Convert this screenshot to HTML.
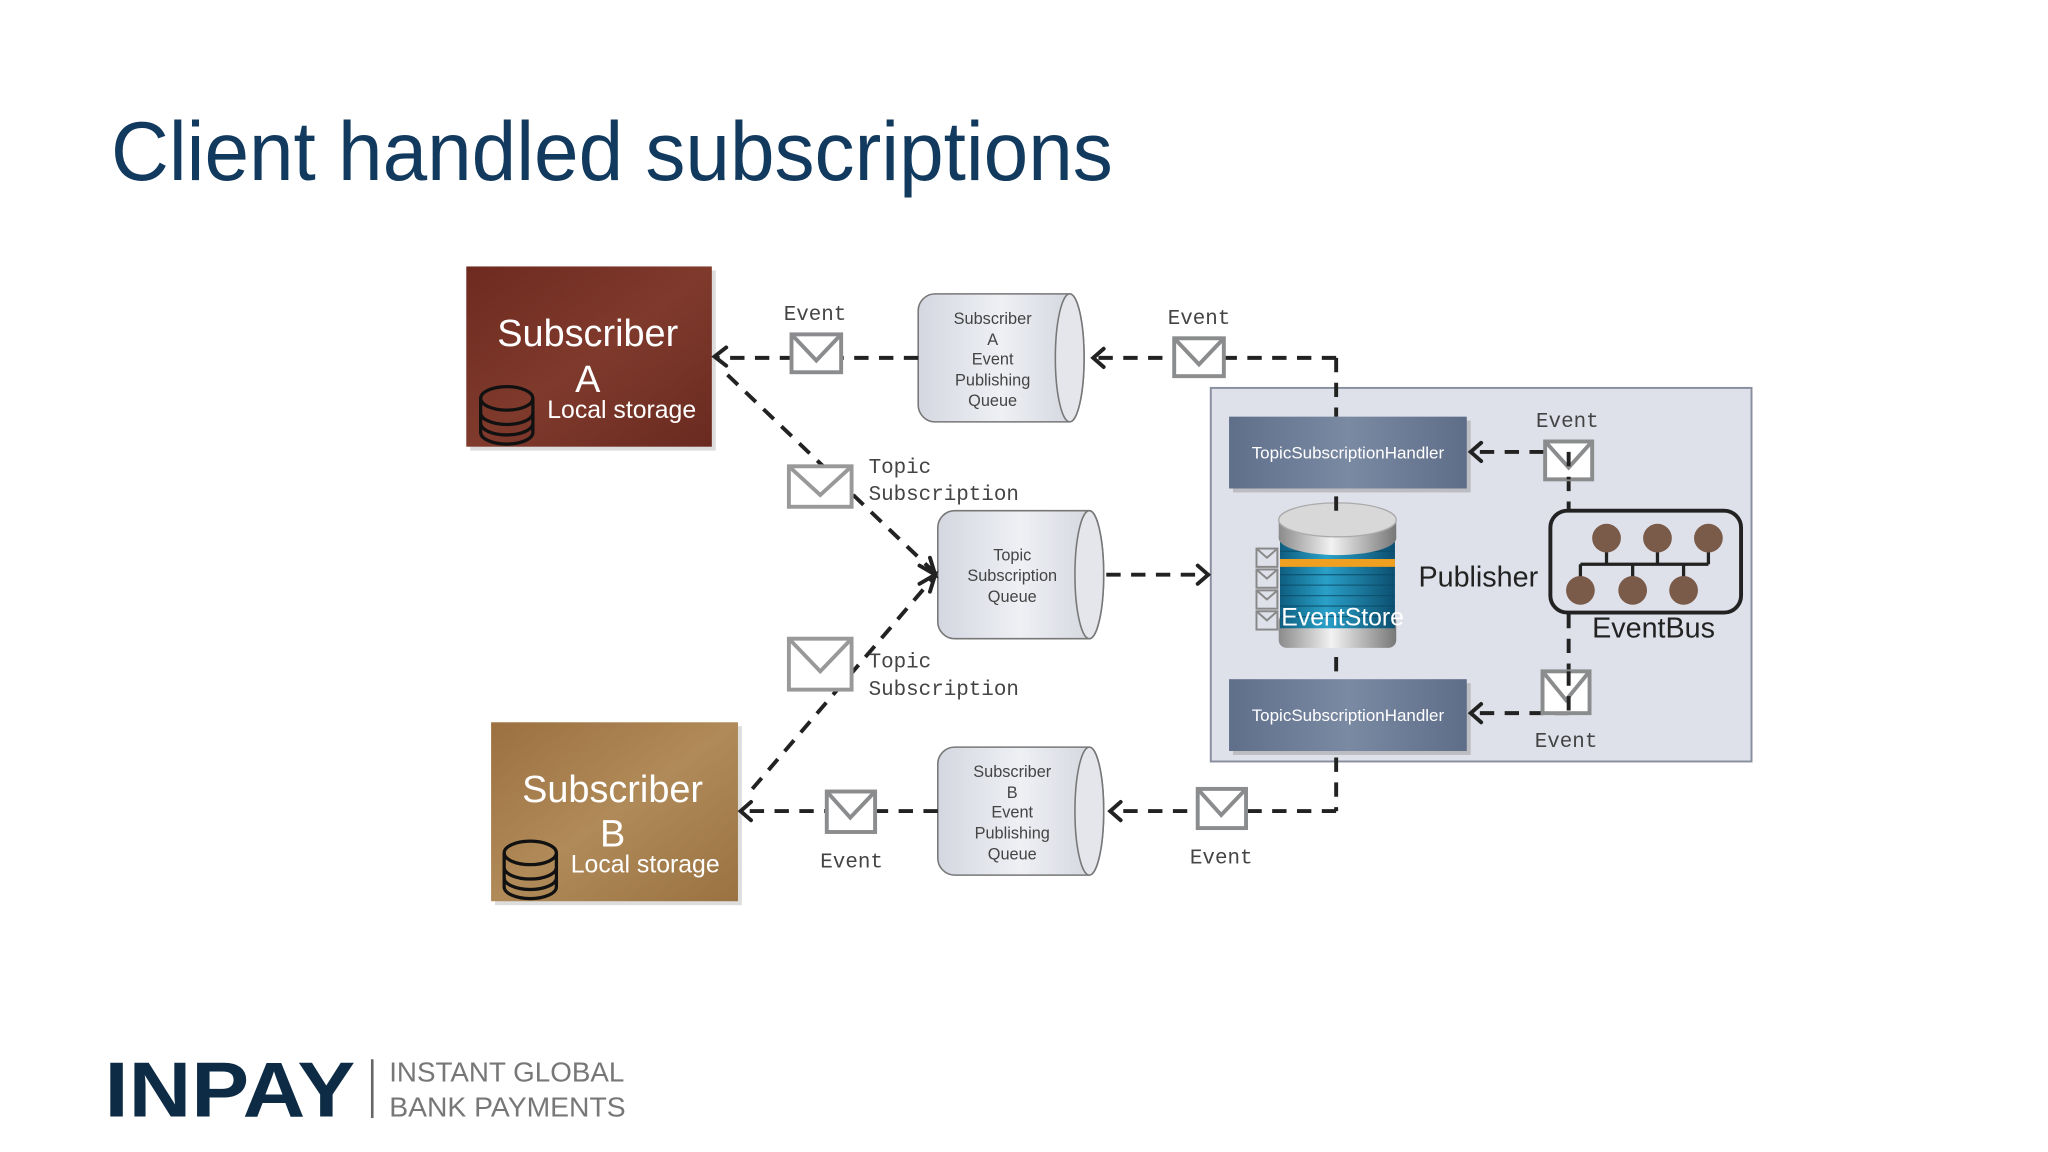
<!DOCTYPE html>
<html><head><meta charset="utf-8"><style>
html,body{margin:0;padding:0;background:#fff;width:2048px;height:1152px;overflow:hidden}
svg{display:block}
.mono{font-family:"Liberation Mono",monospace;fill:#444;font-size:16px}
.cyl{font-family:"Liberation Sans",sans-serif;fill:#444;font-size:12.5px;text-anchor:middle}
.dl{stroke:#222;stroke-width:3;stroke-dasharray:11 8;fill:none}
.ar{stroke:#222;stroke-width:3;fill:none;stroke-linecap:round}
.env{fill:#fff;stroke:#8a8c8e;stroke-width:3}
</style></head><body>
<svg width="2048" height="1152" viewBox="0 0 1568 882" xmlns="http://www.w3.org/2000/svg">
<defs>
<linearGradient id="ga" x1="0" y1="0" x2="1" y2="1"><stop offset="0" stop-color="#6e2a1f"/><stop offset=".5" stop-color="#7f3a2c"/><stop offset="1" stop-color="#6a2a20"/></linearGradient>
<linearGradient id="gb" x1="0" y1="0" x2="1" y2="1"><stop offset="0" stop-color="#9c7040"/><stop offset=".5" stop-color="#b08a58"/><stop offset="1" stop-color="#9a7242"/></linearGradient>
<linearGradient id="gc" x1="0" y1="0" x2="1" y2="0"><stop offset="0" stop-color="#d4d7e0"/><stop offset=".5" stop-color="#eef0f4"/><stop offset="1" stop-color="#d0d3dc"/></linearGradient>
<linearGradient id="gh" x1="0" y1="0" x2="1" y2="0"><stop offset="0" stop-color="#5f6f8a"/><stop offset=".5" stop-color="#7b8aa3"/><stop offset="1" stop-color="#5e6d88"/></linearGradient>
<linearGradient id="gs" x1="0" y1="0" x2="1" y2="0"><stop offset="0" stop-color="#0e5e80"/><stop offset=".4" stop-color="#2aa0c8"/><stop offset="1" stop-color="#0c4f70"/></linearGradient>
<linearGradient id="gm" x1="0" y1="0" x2="1" y2="0"><stop offset="0" stop-color="#8a8a8a"/><stop offset=".45" stop-color="#f2f2f2"/><stop offset="1" stop-color="#777"/></linearGradient>
</defs>

<text x="85" y="138" font-family="Liberation Sans,sans-serif" font-size="64" fill="#123a5e" textLength="767" lengthAdjust="spacingAndGlyphs">Client handled subscriptions</text>

<!-- Subscriber A -->
<rect x="360" y="207" width="188" height="138" fill="#bbb" opacity=".5"/>
<rect x="357" y="204" width="188" height="138" fill="url(#ga)"/>
<text x="450" y="265" font-family="Liberation Sans,sans-serif" font-size="29" fill="#fff" text-anchor="middle">Subscriber</text>
<text x="450" y="300" font-family="Liberation Sans,sans-serif" font-size="29" fill="#fff" text-anchor="middle">A</text>
<text x="476" y="320" font-family="Liberation Sans,sans-serif" font-size="19" fill="#fff" text-anchor="middle">Local storage</text>
<g stroke="#111" stroke-width="2.5" fill="none"><ellipse cx="388" cy="305" rx="20" ry="9"/><path d="M368 305v26a20 9 0 0 0 40 0v-26M368 316a20 9 0 0 0 40 0M368 324a20 9 0 0 0 40 0"/></g>

<!-- Subscriber B -->
<rect x="379" y="556" width="189" height="137" fill="#bbb" opacity=".5"/>
<rect x="376" y="553" width="189" height="137" fill="url(#gb)"/>
<text x="469" y="614" font-family="Liberation Sans,sans-serif" font-size="29" fill="#fff" text-anchor="middle">Subscriber</text>
<text x="469" y="648" font-family="Liberation Sans,sans-serif" font-size="29" fill="#fff" text-anchor="middle">B</text>
<text x="494" y="668" font-family="Liberation Sans,sans-serif" font-size="19" fill="#fff" text-anchor="middle">Local storage</text>
<g stroke="#111" stroke-width="2.5" fill="none"><ellipse cx="406" cy="653" rx="20" ry="9"/><path d="M386 653v26a20 9 0 0 0 40 0v-26M386 664a20 9 0 0 0 40 0M386 672a20 9 0 0 0 40 0"/></g>

<!-- cylinders -->
<g stroke="#777" stroke-width="1.2">
<path d="M716 225h103a11 49 0 0 1 0 98h-103a13 13 0 0 1 -13 -13v-72a13 13 0 0 1 13 -13z" fill="url(#gc)"/>
<ellipse cx="819" cy="274" rx="11" ry="49" fill="#e4e6ec"/>
<path d="M731 391h103a11 49 0 0 1 0 98h-103a13 13 0 0 1 -13 -13v-72a13 13 0 0 1 13 -13z" fill="url(#gc)"/>
<ellipse cx="834" cy="440" rx="11" ry="49" fill="#e4e6ec"/>
<path d="M731 572h103a11 49 0 0 1 0 98h-103a13 13 0 0 1 -13 -13v-72a13 13 0 0 1 13 -13z" fill="url(#gc)"/>
<ellipse cx="834" cy="621" rx="11" ry="49" fill="#e4e6ec"/>
</g>
<g class="cyl"><text x="760" y="248">Subscriber</text><text x="760" y="264">A</text><text x="760" y="279">Event</text><text x="760" y="295">Publishing</text><text x="760" y="311">Queue</text>
<text x="775" y="429">Topic</text><text x="775" y="445">Subscription</text><text x="775" y="461">Queue</text>
<text x="775" y="595">Subscriber</text><text x="775" y="611">B</text><text x="775" y="626">Event</text><text x="775" y="642">Publishing</text><text x="775" y="658">Queue</text></g>

<!-- outer box -->
<rect x="927" y="297" width="414" height="286" fill="#dfe1ea" stroke="#8a8fa0" stroke-width="1.5"/>
<rect x="944" y="322" width="182" height="55" fill="#999" opacity=".5"/>
<rect x="941" y="319" width="182" height="55" fill="url(#gh)"/>
<text x="1032" y="351" font-family="Liberation Sans,sans-serif" font-size="13" fill="#fff" text-anchor="middle">TopicSubscriptionHandler</text>
<rect x="944" y="523" width="182" height="55" fill="#999" opacity=".5"/>
<rect x="941" y="520" width="182" height="55" fill="url(#gh)"/>
<text x="1032" y="552" font-family="Liberation Sans,sans-serif" font-size="13" fill="#fff" text-anchor="middle">TopicSubscriptionHandler</text>

<!-- EventStore -->
<rect x="979" y="470" width="90" height="26" rx="6" fill="url(#gm)"/>
<rect x="980" y="415" width="88" height="66" fill="url(#gs)"/>
<rect x="980" y="428" width="88" height="6" fill="#f0a020"/>
<g stroke="#0a4a66" stroke-width="1" opacity=".7"><path d="M980 422h88M980 440h88M980 448h88M980 456h88M980 464h88M980 472h88"/></g>
<ellipse cx="1024" cy="412" rx="45" ry="13" fill="url(#gm)"/>
<rect x="979" y="398" width="90" height="14" fill="url(#gm)"/>
<ellipse cx="1024" cy="398" rx="45" ry="13" fill="#d8d8d8" stroke="#aaa"/>
<g fill="none" stroke="#888" stroke-width="1.5"><rect x="962" y="420" width="16" height="14"/><rect x="962" y="436" width="16" height="14"/><rect x="962" y="452" width="16" height="14"/><rect x="962" y="468" width="16" height="14"/><path d="M962 420l8 7 8-7M962 436l8 7 8-7M962 452l8 7 8-7M962 468l8 7 8-7"/></g>
<text x="981" y="479" font-family="Liberation Sans,sans-serif" font-size="19" fill="#fff">EventStore</text>
<text x="1086" y="449" font-family="Liberation Sans,sans-serif" font-size="22" fill="#222">Publisher</text>

<!-- EventBus -->
<rect x="1187" y="391" width="146" height="78" rx="13" fill="none" stroke="#222" stroke-width="3"/>
<g stroke="#222" stroke-width="2.5" fill="none"><path d="M1210 432h98M1230 412v20M1269 412v20M1308 412v20M1210 432v20M1250 432v20M1289 432v20"/></g>
<g fill="#7a5a48"><circle cx="1230" cy="412" r="11"/><circle cx="1269" cy="412" r="11"/><circle cx="1308" cy="412" r="11"/><circle cx="1210" cy="452" r="11"/><circle cx="1250" cy="452" r="11"/><circle cx="1289" cy="452" r="11"/></g>
<text x="1266" y="488" font-family="Liberation Sans,sans-serif" font-size="22" fill="#222" text-anchor="middle">EventBus</text>

<!-- connectors -->
<path class="dl" d="M1023 274H838M1023 274V319M1023 380V398M1023 503V520M1023 580V621M1023 621H852"/>
<path class="dl" d="M703 274H548"/>
<path class="dl" d="M718 621H567"/>
<path class="dl" d="M557 287L714 437"/>
<path class="dl" d="M576 604L714 443"/>
<path class="dl" d="M847 440H922"/>
<path class="dl" d="M1201 346H1127M1201 346V391M1201 470V546M1201 546H1127"/>
<g class="ar">
<path d="M845 267l-8 7 8 7"/><path d="M858 614l-8 7 8 7"/>
<path d="M556 266l-9 7 9 7"/><path d="M575 614l-8 7 8 7"/>
<path d="M704 433l12 7-4-13"/><path d="M704 447l12-7-4 13"/>
<path d="M917 433l8 7-8 7"/>
<path d="M1134 339l-8 7 8 7"/><path d="M1134 539l-8 7 8 7"/>
</g>

<!-- envelopes -->
<g class="env">
<rect x="606" y="256" width="38" height="29"/><path d="M606 256l19 20 19-20" fill="none"/>
<rect x="899" y="259" width="38" height="29"/><path d="M899 259l19 20 19-20" fill="none"/>
<rect x="604" y="357" width="48" height="31" stroke="#999"/><path d="M604 357l24 22 24-22" fill="none" stroke="#999"/>
<rect x="604" y="489" width="48" height="39" stroke="#999"/><path d="M604 489l24 25 24-25" fill="none" stroke="#999"/>
<rect x="633" y="606" width="37" height="31"/><path d="M633 606l18 20 19-20" fill="none"/>
<rect x="917" y="604" width="37" height="30"/><path d="M917 604l18 20 19-20" fill="none"/>
<rect x="1183" y="338" width="36" height="29"/><path d="M1183 338l18 20 18-20" fill="none"/>
<rect x="1181" y="514" width="36" height="32"/><path d="M1181 514l18 22 18-22" fill="none"/>
</g>
<path class="dl" d="M1201 346V367M1201 514V546"/>

<g class="mono" text-anchor="middle">
<text x="624" y="245">Event</text><text x="918" y="248">Event</text><text x="1200" y="327">Event</text><text x="1199" y="572">Event</text><text x="652" y="664">Event</text><text x="935" y="661">Event</text>
</g>
<g class="mono"><text x="665" y="362">Topic</text><text x="665" y="383">Subscription</text><text x="665" y="511">Topic</text><text x="665" y="532">Subscription</text></g>

<!-- logo -->
<text x="80" y="855" font-family="Liberation Sans,sans-serif" font-weight="bold" font-size="60" fill="#0d2b45" textLength="192" lengthAdjust="spacingAndGlyphs">INPAY</text>
<path d="M285 811V856" stroke="#666" stroke-width="2"/>
<text x="298" y="828" font-family="Liberation Sans,sans-serif" font-size="21" fill="#777" textLength="180" lengthAdjust="spacingAndGlyphs">INSTANT GLOBAL</text>
<text x="298" y="855" font-family="Liberation Sans,sans-serif" font-size="21" fill="#777" textLength="181" lengthAdjust="spacingAndGlyphs">BANK PAYMENTS</text>
</svg>
</body></html>
